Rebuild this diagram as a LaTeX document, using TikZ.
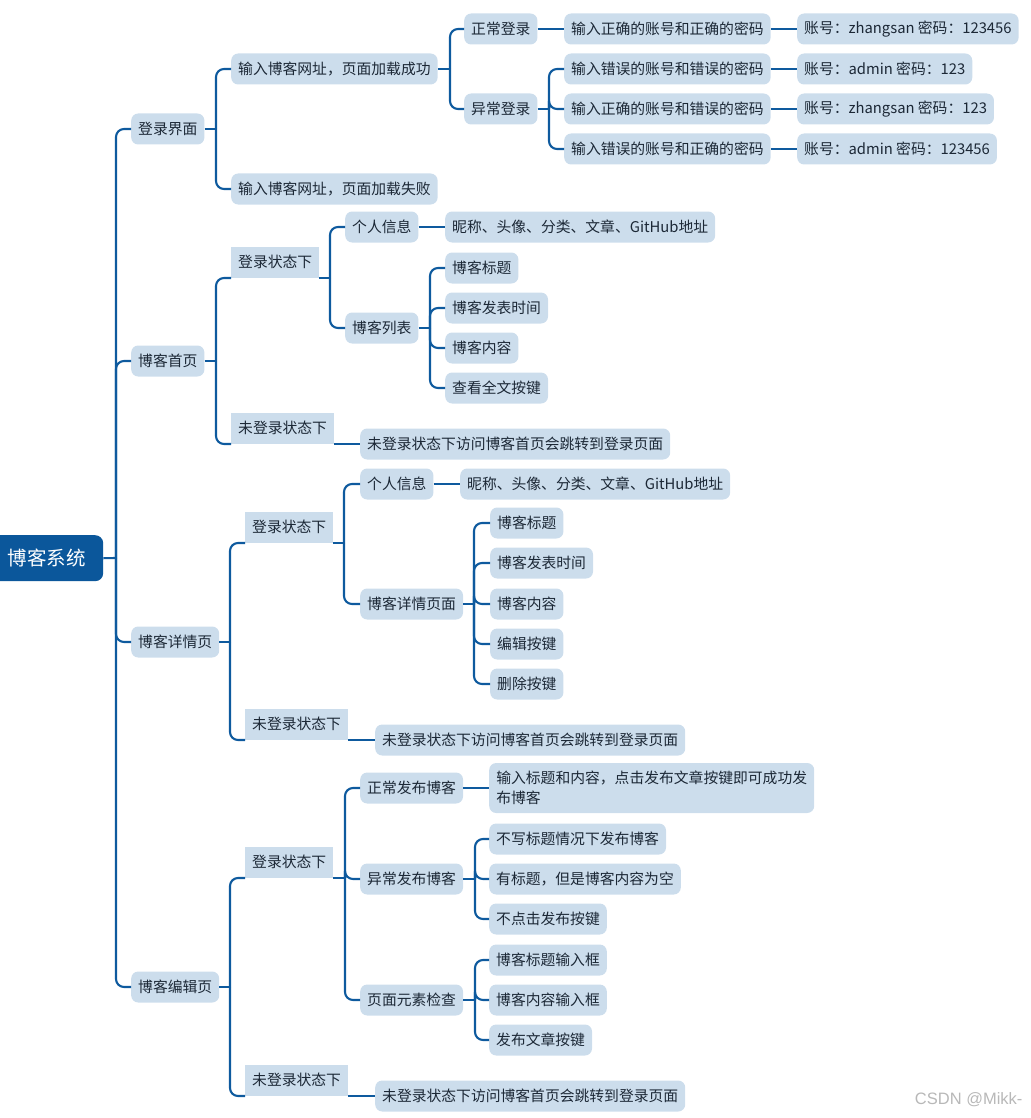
\documentclass[tikz,border=0pt]{standalone}
\usepackage{fontspec}
\newfontfamily\cjk{Noto Sans CJK SC}
\newfontfamily\wmfont{Liberation Sans}
\definecolor{nfill}{HTML}{CCDDEC}
\definecolor{lblue}{HTML}{0E5A9E}
\definecolor{rootc}{HTML}{0B579B}
\definecolor{txt}{HTML}{1C2836}
\tikzset{
  base/.style={rectangle, fill=nfill, text=txt, inner xsep=7pt, inner ysep=0pt,
    minimum height=31pt, font=\cjk\fontsize{14.8}{18}\selectfont},
  leaf/.style={base, rounded corners=7pt, anchor=west},
  sqbox/.style={base, anchor=south west},
  rootbox/.style={rectangle, fill=rootc, text=white, rounded corners=8pt,
    anchor=north west, minimum width=113pt, minimum height=46pt,
    font=\cjk\fontsize{19.5}{22}\selectfont},
  conn/.style={draw=lblue, line width=2.1pt, rounded corners=8pt},
}
\begin{document}
\begin{tikzpicture}[x=1pt,y=-1pt]
\useasboundingbox (0,0) rectangle (1030,1118);
% root
\node[rootbox] (root) at (-10,535) {博客系统};
% level 1
\node[leaf] (n1) at (131,129) {登录界面};
\node[leaf] (n2) at (131,361) {博客首页};
\node[leaf] (n3) at (131,642) {博客详情页};
\node[leaf] (n4) at (131,987) {博客编辑页};
% 登录界面
\node[leaf] (a1) at (231,69) {输入博客网址，页面加载成功};
\node[leaf] (a2) at (231,189) {输入博客网址，页面加载失败};
\node[leaf] (a11) at (464,29) {正常登录};
\node[leaf] (a12) at (464,109) {异常登录};
\node[leaf] (a111) at (564,29) {输入正确的账号和正确的密码};
\node[leaf] (a1111) at (797,29) {账号：zhangsan 密码：123456};
\node[leaf] (a121) at (564,69) {输入错误的账号和错误的密码};
\node[leaf] (a1211) at (797,69) {账号：admin 密码：123};
\node[leaf] (a122) at (564,109) {输入正确的账号和错误的密码};
\node[leaf] (a1221) at (797,109) {账号：zhangsan 密码：123};
\node[leaf] (a123) at (564,149) {输入错误的账号和正确的密码};
\node[leaf] (a1231) at (797,149) {账号：admin 密码：123456};
% 博客首页
\node[sqbox] (b1) at (231,278) {登录状态下};
\node[sqbox] (b2) at (231,444) {未登录状态下};
\node[leaf] (b21) at (360,444) {未登录状态下访问博客首页会跳转到登录页面};
\node[leaf] (b11) at (345,227) {个人信息};
\node[leaf] (b111) at (445,227) {昵称、头像、分类、文章、GitHub地址};
\node[leaf] (b12) at (345,328) {博客列表};
\node[leaf] (b121) at (445,268) {博客标题};
\node[leaf] (b122) at (445,308) {博客发表时间};
\node[leaf] (b123) at (445,348) {博客内容};
\node[leaf] (b124) at (445,388) {查看全文按键};
% 博客详情页
\node[sqbox] (c1) at (245,543) {登录状态下};
\node[sqbox] (c2) at (245,740) {未登录状态下};
\node[leaf] (c21) at (375,740) {未登录状态下访问博客首页会跳转到登录页面};
\node[leaf] (c11) at (360,484) {个人信息};
\node[leaf] (c111) at (460,484) {昵称、头像、分类、文章、GitHub地址};
\node[leaf] (c12) at (360,604) {博客详情页面};
\node[leaf] (c121) at (490,523) {博客标题};
\node[leaf] (c122) at (490,563) {博客发表时间};
\node[leaf] (c123) at (490,604) {博客内容};
\node[leaf] (c124) at (490,644) {编辑按键};
\node[leaf] (c125) at (490,684) {删除按键};
% 博客编辑页
\node[sqbox] (d1) at (245,878) {登录状态下};
\node[sqbox] (d2) at (245,1096) {未登录状态下};
\node[leaf] (d21) at (375,1096) {未登录状态下访问博客首页会跳转到登录页面};
\node[leaf] (d11) at (360,788) {正常发布博客};
\node[leaf, minimum height=50pt, minimum width=325pt, align=left,
  font=\cjk\fontsize{14.8}{20}\selectfont] (d111) at (489,788)
  {输入标题和内容，点击发布文章按键即可成功发\\布博客};
\node[leaf] (d12) at (360,879) {异常发布博客};
\node[leaf] (d121) at (489,839) {不写标题情况下发布博客};
\node[leaf] (d122) at (489,879) {有标题，但是博客内容为空};
\node[leaf] (d123) at (489,919) {不点击发布按键};
\node[leaf] (d13) at (360,1000) {页面元素检查};
\node[leaf] (d131) at (489,960) {博客标题输入框};
\node[leaf] (d132) at (489,1000) {博客内容输入框};
\node[leaf] (d133) at (489,1040) {发布文章按键};
% watermark
\node[anchor=east, text=black!28, font=\wmfont\fontsize{16.5}{18}\selectfont] (wm) at (1026,1100) {CSDN @Mikk-};

% junctions
\coordinate (J0) at (116,558);
\coordinate (Ja) at (216,129);
\coordinate (Ja1) at (450,69);
\coordinate (Ja12) at (549,109);
\coordinate (Jb) at (216,361);
\coordinate (Jb1) at (330,278);
\coordinate (Jb12) at (430,328);
\coordinate (Jc) at (230,642);
\coordinate (Jc1) at (344,543);
\coordinate (Jc12) at (474,604);
\coordinate (Jd) at (230,987);
\coordinate (Jd1) at (345,878);
\coordinate (Jd12) at (475,879);
\coordinate (Jd13) at (475,1000);

% connectors
\draw[conn] (root.east) -- (J0);
\foreach \c in {n1,n2,n3,n4} \draw[conn] (J0) |- (\c.west);

\draw[conn] (n1.east) -- (Ja);
\foreach \c in {a1,a2} \draw[conn] (Ja) |- (\c.west);
\draw[conn] (a1.east) -- (Ja1);
\foreach \c in {a11,a12} \draw[conn] (Ja1) |- (\c.west);
\draw[conn] (a11.east) -- (a111.west);
\draw[conn] (a12.east) -- (Ja12);
\foreach \c in {a121,a122,a123} \draw[conn] (Ja12) |- (\c.west);
\draw[conn] (a111.east) -- (a1111.west);
\draw[conn] (a121.east) -- (a1211.west);
\draw[conn] (a122.east) -- (a1221.west);
\draw[conn] (a123.east) -- (a1231.west);

\draw[conn] (n2.east) -- (Jb);
\foreach \c in {b1,b2} \draw[conn] (Jb) |- (\c.south west);
\draw[conn] (b2.south east) -- (b21.west);
\draw[conn] (b1.south east) -- (Jb1);
\foreach \c in {b11,b12} \draw[conn] (Jb1) |- (\c.west);
\draw[conn] (b11.east) -- (b111.west);
\draw[conn] (b12.east) -- (Jb12);
\foreach \c in {b121,b122,b123,b124} \draw[conn] (Jb12) |- (\c.west);

\draw[conn] (n3.east) -- (Jc);
\foreach \c in {c1,c2} \draw[conn] (Jc) |- (\c.south west);
\draw[conn] (c2.south east) -- (c21.west);
\draw[conn] (c1.south east) -- (Jc1);
\foreach \c in {c11,c12} \draw[conn] (Jc1) |- (\c.west);
\draw[conn] (c11.east) -- (c111.west);
\draw[conn] (c12.east) -- (Jc12);
\foreach \c in {c121,c122,c123,c124,c125} \draw[conn] (Jc12) |- (\c.west);

\draw[conn] (n4.east) -- (Jd);
\foreach \c in {d1,d2} \draw[conn] (Jd) |- (\c.south west);
\draw[conn] (d2.south east) -- (d21.west);
\draw[conn] (d1.south east) -- (Jd1);
\foreach \c in {d11,d12,d13} \draw[conn] (Jd1) |- (\c.west);
\draw[conn] (d11.east) -- (d111.west);
\draw[conn] (d12.east) -- (Jd12);
\foreach \c in {d121,d122,d123} \draw[conn] (Jd12) |- (\c.west);
\draw[conn] (d13.east) -- (Jd13);
\foreach \c in {d131,d132,d133} \draw[conn] (Jd13) |- (\c.west);
\end{tikzpicture}
\end{document}
